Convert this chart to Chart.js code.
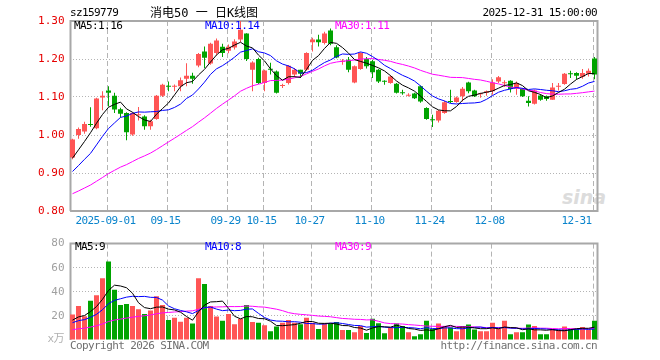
<!DOCTYPE html>
<html>
<head>
<meta charset="utf-8">
<script src="https://cdn.jsdelivr.net/npm/chart.js@4.4.1/dist/chart.umd.min.js"></script>
<style>
  body { margin: 0; background: #fff; width: 660px; height: 360px; overflow: hidden; position: relative; }
  canvas { position: absolute; left: 0; }
  .t { position: absolute; font-family: "DejaVu Sans Mono", monospace; font-size: 11px; letter-spacing: -0.6px; line-height: 12px; white-space: nowrap; }
  #title { font-family: "DejaVu Sans Mono", "Noto Sans CJK SC", sans-serif; font-size: 12px; letter-spacing: 0; }
  #logo { position: absolute; left: 562px; top: 186px; font-family: "DejaVu Sans", sans-serif; font-size: 19px; font-style: italic; font-weight: bold; color: #dcdcdc; }
</style>
</head>
<body>
<div id="logo">sina</div>
<canvas id="price" width="660" height="232" style="top:0"></canvas>
<canvas id="volume" width="660" height="128" style="top:232px"></canvas>

<div class="t" style="left:70px;top:7px;color:#000">sz159779</div>
<div class="t" id="title" style="left:150px;top:7px;color:#000">消电50 一 日K线图</div>
<div class="t" style="right:63px;top:7px;color:#000">2025-12-31 15:00:00</div>

<div class="t" style="left:74px;top:20px;color:#000">MA5:1.16</div>
<div class="t" style="left:205px;top:20px;color:#0000ff">MA10:1.14</div>
<div class="t" style="left:335px;top:20px;color:#ff00ff">MA30:1.11</div>

<div class="t" style="left:75px;top:241px;color:#000">MA5:9</div>
<div class="t" style="left:205px;top:241px;color:#0000ff">MA10:8</div>
<div class="t" style="left:335px;top:241px;color:#ff00ff">MA30:9</div>

<div class="t" style="right:596px;top:333px;color:#b0b0b0;font-family:'DejaVu Sans Mono','Noto Sans CJK SC'">x万</div>
<div class="t" style="left:70px;top:340px;color:#707070">Copyright 2026 SINA.COM</div>
<div class="t" style="right:63px;top:340px;color:#707070">http://finance.sina.com.cn</div>

<script>
// trading days shown (2025-08-22 .. 2025-12-31)
const dates = [
  '08-22','08-25','08-26','08-27','08-28','08-29',
  '09-01','09-02','09-03','09-04','09-05','09-08','09-09','09-10','09-11','09-12',
  '09-15','09-16','09-17','09-18','09-19','09-22','09-23','09-24','09-25','09-26','09-29','09-30',
  '10-09','10-10','10-13','10-14','10-15','10-16','10-17','10-20','10-21','10-22','10-23','10-24',
  '10-27','10-28','10-29','10-30','10-31',
  '11-03','11-04','11-05','11-06','11-07','11-10','11-11','11-12','11-13','11-14',
  '11-17','11-18','11-19','11-20','11-21','11-24','11-25','11-26','11-27','11-28',
  '12-01','12-02','12-03','12-04','12-05','12-08','12-09','12-10','12-11','12-12',
  '12-15','12-16','12-17','12-18','12-19','12-22','12-23','12-24','12-25','12-26',
  '12-29','12-30','12-31'
];
const tickDates = ['2025-09-01', '09-15', '09-29', '10-15', '10-27', '11-10', '11-24', '12-08', '12-31'];

const open = [
  0.941,1.000,1.009,1.028,1.018,1.099,1.117,1.103,1.068,1.058,
  1.001,1.052,1.049,1.023,1.042,1.103,1.129,1.127,1.128,1.148,
  1.156,1.183,1.220,1.188,1.216,1.232,1.222,1.230,1.251,1.267,
  1.172,1.200,1.137,1.174,1.167,1.129,1.137,1.159,1.172,1.172,
  1.244,1.251,1.242,1.275,1.231,1.193,1.198,1.138,1.174,1.200,
  1.194,1.172,1.142,1.137,1.135,1.112,1.103,1.109,1.128,1.071,
  1.041,1.038,1.058,1.089,1.087,1.102,1.138,1.117,1.107,1.111,
  1.115,1.141,1.136,1.143,1.122,1.121,1.090,1.082,1.104,1.102,
  1.093,1.127,1.134,1.162,1.163,1.153,1.161,1.201
];
const high = [
  0.990,1.020,1.035,1.073,1.098,1.115,1.128,1.111,1.072,1.060,
  1.060,1.074,1.052,1.040,1.105,1.135,1.141,1.133,1.151,1.189,
  1.164,1.216,1.233,1.243,1.254,1.240,1.238,1.252,1.300,1.268,
  1.194,1.203,1.172,1.190,1.170,1.135,1.184,1.176,1.172,1.218,
  1.256,1.264,1.272,1.280,1.236,1.200,1.205,1.183,1.218,1.205,
  1.198,1.174,1.144,1.157,1.137,1.119,1.110,1.111,1.130,1.073,
  1.053,1.066,1.090,1.119,1.101,1.126,1.140,1.119,1.111,1.117,
  1.147,1.155,1.144,1.144,1.141,1.124,1.102,1.120,1.107,1.104,
  1.137,1.137,1.163,1.169,1.165,1.174,1.175,1.205
];
const low = [
  0.936,0.990,1.003,1.022,1.015,1.065,1.075,1.058,1.046,0.986,
  0.998,1.038,1.014,1.014,1.040,1.100,1.115,1.115,1.115,1.128,
  1.135,1.178,1.176,1.185,1.210,1.205,1.215,1.225,1.245,1.195,
  1.115,1.134,1.115,1.159,1.109,1.124,1.133,1.152,1.150,1.170,
  1.220,1.233,1.238,1.236,1.202,1.185,1.165,1.136,1.172,1.175,
  1.150,1.137,1.132,1.135,1.109,1.106,1.101,1.095,1.085,1.040,
  1.021,1.033,1.056,1.084,1.085,1.088,1.110,1.100,1.098,1.103,
  1.106,1.137,1.126,1.112,1.106,1.100,1.075,1.080,1.090,1.090,
  1.093,1.117,1.132,1.150,1.146,1.148,1.154,1.147
];
const close = [
  0.988,1.016,1.029,1.026,1.096,1.103,1.111,1.067,1.056,1.007,
  1.058,1.054,1.023,1.036,1.103,1.132,1.127,1.129,1.144,1.156,
  1.148,1.213,1.203,1.240,1.249,1.216,1.232,1.246,1.277,1.200,
  1.191,1.137,1.170,1.172,1.111,1.131,1.182,1.172,1.161,1.216,
  1.251,1.244,1.267,1.240,1.204,1.195,1.172,1.181,1.216,1.181,
  1.165,1.141,1.140,1.154,1.111,1.110,1.105,1.097,1.088,1.042,
  1.039,1.064,1.086,1.087,1.099,1.122,1.115,1.102,1.109,1.115,
  1.138,1.152,1.138,1.121,1.137,1.102,1.084,1.117,1.093,1.095,
  1.125,1.129,1.161,1.160,1.156,1.163,1.169,1.159
];
// volume, x万
const volume = [
  21.1,28.3,19.7,32.5,37.1,51.2,65.1,41.6,29.1,29.9,
  28.3,25.6,21.6,24.5,36.3,29.1,16.5,18.4,15.2,18.4,
  13.6,51.2,46.4,28.3,19.5,16,21.6,13.1,17.6,29.1,
  14.9,14.4,12.3,7.2,11.2,14.4,16.5,14.4,13.1,18.4,
  14.4,9.1,13.9,13.9,14.9,8.3,8.3,6.4,11.7,5.9,
  17.6,13.9,5.6,10.4,13.6,11.7,6.4,3.2,4.8,16,
  9.1,13.6,11.7,10.4,7.2,10.9,12.8,8.8,7.2,7.2,
  14.4,9.1,16,4.8,6.4,6.4,12.8,11.7,4.8,4.8,
  9.1,8.5,11.2,9.1,9.1,10.7,8.5,16
];
// sessions before the window, estimated from where the MA lines start
const earlierCloses = [
  0.800,0.795,0.790,0.800,0.805,0.800,0.810,0.805,0.810,0.815,
  0.810,0.820,0.815,0.825,0.830,0.825,0.835,0.840,0.845,0.850,
  0.860,0.865,0.870,0.872,0.878,0.906,0.919,0.911,0.971
];
const earlierVolumes = [
  4,5,4.5,5,6,5,4.5,5,5.5,6,
  5,6,5.5,6,6.5,6,7,6,6.5,6.5,
  12,11,13,12.5,13,15,14,16,16.4
];

const UP = '#ff5555', DOWN = '#00a300';
const candleColor = close.map((c, i) => c >= open[i] ? UP : DOWN);
const tickIndex = tickDates.map(t => dates.indexOf(t.slice(-5)));

function movingAverage(values, earlier, n) {
  const all = earlier.concat(values);
  return values.map((v, i) => {
    const end = earlier.length + i + 1;
    return all.slice(end - n, end).reduce((a, b) => a + b, 0) / n;
  });
}

const panelFrame = {
  id: 'panelFrame',
  beforeDatasetsDraw(chart, args, opts) {
    const {ctx, chartArea: a, scales: {x}} = chart;
    ctx.save();
    ctx.strokeStyle = '#b4b4b4';
    ctx.lineWidth = 1;
    ctx.setLineDash([5, 3]);
    tickIndex.forEach(i => {
      const px = Math.floor(x.getPixelForValue(i) - 1.5) + 0.5;
      ctx.beginPath();
      ctx.moveTo(px, a.top);
      ctx.lineTo(px, a.bottom);
      ctx.stroke();
    });
    ctx.setLineDash([]);
    ctx.strokeStyle = '#a8a8a8';
    ctx.lineWidth = 2;
    const l = a.left + 1, r = a.right;
    ctx.beginPath();
    ctx.moveTo(l, a.bottom);
    ctx.lineTo(l, a.top);
    ctx.lineTo(r, a.top);
    ctx.lineTo(r, a.bottom);
    if (opts.closed) ctx.lineTo(l, a.bottom);
    ctx.stroke();
    ctx.restore();
  },
  afterDraw(chart, args, opts) {
    if (!opts.dateLabels) return;
    const {ctx, chartArea: a, scales: {x}} = chart;
    ctx.save();
    ctx.font = '11px "DejaVu Sans Mono"';
    ctx.letterSpacing = '-0.6px';
    ctx.fillStyle = '#0a84cc';
    ctx.textBaseline = 'middle';
    tickIndex.forEach((i, k) => {
      const last = k === tickIndex.length - 1;
      ctx.textAlign = last ? 'right' : 'center';
      const px = last ? a.right - 6 : x.getPixelForValue(i) - 3;
      ctx.fillText(tickDates[k], px, a.bottom + 10.5);
    });
    ctx.restore();
  }
};

const maLine = (data, color) => ({
  type: 'line', data, borderColor: color, borderWidth: 1,
  pointRadius: 0, fill: false, tension: 0, order: 0
});

const axisFont = {family: 'DejaVu Sans Mono', size: 11};

new Chart(document.getElementById('price'), {
  type: 'bar',
  data: {
    labels: dates,
    datasets: [
      maLine(movingAverage(close, earlierCloses, 5), '#000000'),
      maLine(movingAverage(close, earlierCloses, 10), '#0000ff'),
      maLine(movingAverage(close, earlierCloses, 30), '#ff00ff'),
      {
        data: open.map((o, i) => [Math.min(o, close[i]), Math.max(o, close[i])]),
        backgroundColor: candleColor, barThickness: 5, minBarLength: 1,
        inflateAmount: 0, borderWidth: 0, grouped: false, order: 1
      },
      {
        data: low.map((l, i) => [l, high[i]]),
        backgroundColor: candleColor, barThickness: 1,
        inflateAmount: 0, borderWidth: 0, grouped: false, order: 2
      }
    ]
  },
  options: {
    responsive: false, animation: false, events: [],
    layout: {padding: {left: 0, right: 62.5, top: 21, bottom: 21}},
    plugins: {legend: {display: false}, tooltip: {enabled: false}, panelFrame: {closed: true, dateLabels: true}},
    scales: {
      x: {display: false, offset: true},
      y: {
        min: 0.8, max: 1.3,
        afterFit: s => { s.width = 69.5; },
        ticks: {stepSize: 0.1, padding: 5, color: '#e60000', font: axisFont, callback: v => v.toFixed(2)},
        grid: {color: '#b4b4b4', drawTicks: false},
        border: {display: false, dash: [1, 2]}
      }
    }
  },
  plugins: [panelFrame]
});

new Chart(document.getElementById('volume'), {
  type: 'bar',
  data: {
    labels: dates,
    datasets: [
      maLine(movingAverage(volume, earlierVolumes, 5), '#000000'),
      maLine(movingAverage(volume, earlierVolumes, 10), '#0000ff'),
      maLine(movingAverage(volume, earlierVolumes, 30), '#ff00ff'),
      {
        data: volume, backgroundColor: candleColor, barThickness: 5,
        inflateAmount: 0, borderWidth: 0, grouped: false, order: 1
      }
    ]
  },
  options: {
    responsive: false, animation: false, events: [],
    layout: {padding: {left: 0, right: 62.5, top: 8, bottom: 20}},
    plugins: {legend: {display: false}, tooltip: {enabled: false}, panelFrame: {closed: false, dateLabels: false}},
    scales: {
      x: {display: false, offset: true},
      y: {
        min: 0, max: 80,
        afterFit: s => { s.width = 69.5; },
        ticks: {stepSize: 20, padding: 5, color: '#a0a0a0', font: axisFont, callback: v => v === 0 ? '' : v},
        grid: {color: c => c.tick && c.tick.value === 0 ? 'rgba(0,0,0,0)' : '#b4b4b4', drawTicks: false},
        border: {display: false, dash: [1, 2]}
      }
    }
  },
  plugins: [panelFrame]
});
</script>
</body>
</html>
